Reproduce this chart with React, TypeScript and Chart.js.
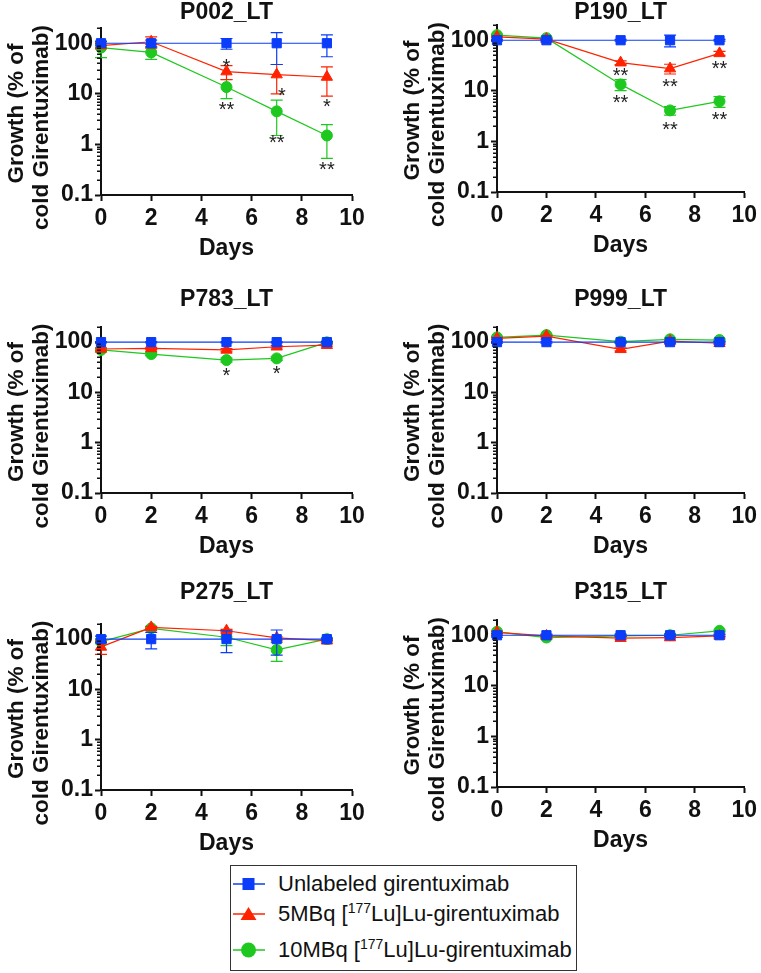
import React, { useEffect, useRef } from 'react';
import { Chart, registerables } from 'chart.js';

Chart.register(...registerables);

const FONT = '"Liberation Sans", Arial, Helvetica, sans-serif';
const TEXT_COLOR = '#111111';
const AXIS_COLOR = '#111111';

// ---------- data ----------
const DAYS = [0, 2, 5, 7, 9];
const X_TICKS = [0, 2, 4, 6, 8, 10];
const Y_TICKS = [0.1, 1, 10, 100];
const Y_MINOR_TICKS = [
  0.2, 0.3, 0.4, 0.5, 0.6, 0.7, 0.8, 0.9,
  2, 3, 4, 5, 6, 7, 8, 9,
  20, 30, 40, 50, 60, 70, 80, 90,
  200,
];
const Y_MIN = 0.1;
const Y_MAX = 200;
const X_MIN = 0;
const X_MAX = 10;

const SERIES_LABELS = [
  'Unlabeled girentuximab',
  '5MBq [177Lu]Lu-girentuximab',
  '10MBq [177Lu]Lu-girentuximab',
];
const SERIES_COLORS = ['#0a3cfa', '#ff2200', '#1ec81e'];
const SERIES_POINT_STYLES = ['rect', 'triangle', 'circle'];
const SERIES_POINT_RADII = [6.5, 6.5, 5.5];

const X_TITLE = 'Days';
const Y_TITLE_LINES = ['Growth (% of', 'cold Girentuximab)'];

// P002_LT
const P002_UNLABELED = [100, 100, 100, 100, 100];
const P002_UNLABELED_ERR = [8, 15, 24, 62, 46];
const P002_5MBQ = [90, 107, 27.5, 24, 21.5];
const P002_5MBQ_ERR = [10, 27, 8.5, 14, 12.5];
const P002_10MBQ = [82, 66, 13.6, 4.5, 1.5];
const P002_10MBQ_ERR = [30, 18, 5.6, 3, 0.97];
const P002_MARKS = [
  { x: 5, y: 44.7, text: '*' },
  { x: 5, y: 6.15, text: '**' },
  { x: 7.21, y: 11.9, text: '*' },
  { x: 7, y: 1.36, text: '**' },
  { x: 9, y: 7.16, text: '*' },
  { x: 9, y: 0.394, text: '**' },
];

// P190_LT
const P190_UNLABELED = [100, 100, 100, 100, 100];
const P190_UNLABELED_ERR = [4, 4, 4, 26, 4];
const P190_5MBQ = [117, 105, 36, 27.5, 55];
const P190_5MBQ_ERR = [4, 4, 3, 6, 5];
const P190_10MBQ = [126, 110, 13.4, 4.1, 6.2];
const P190_10MBQ_ERR = [5, 4, 3.3, 0.8, 1.5];
const P190_MARKS = [
  { x: 5, y: 25.5, text: '**' },
  { x: 5, y: 7.3, text: '**' },
  { x: 7, y: 15.6, text: '**' },
  { x: 7, y: 2.15, text: '**' },
  { x: 9, y: 35, text: '**' },
  { x: 9, y: 3.4, text: '**' },
];

// P783_LT
const P783_UNLABELED = [100, 100, 100, 100, 100];
const P783_UNLABELED_ERR = [3, 3, 3, 3, 3];
const P783_5MBQ = [73, 75, 70, 81, 87];
const P783_5MBQ_ERR = [4, 4, 4, 4, 4];
const P783_10MBQ = [70, 58, 44, 47.5, 99];
const P783_10MBQ_ERR = [4, 4, 4, 4, 4];
const P783_MARKS = [
  { x: 5, y: 27, text: '*' },
  { x: 7, y: 29.6, text: '*' },
];

// P999_LT
const P999_UNLABELED = [100, 100, 100, 100, 100];
const P999_UNLABELED_ERR = [4, 4, 4, 4, 4];
const P999_5MBQ = [119, 132, 72, 105, 95];
const P999_5MBQ_ERR = [5, 5, 5, 5, 5];
const P999_10MBQ = [124, 138, 102, 114, 110];
const P999_10MBQ_ERR = [5, 5, 5, 5, 5];
const P999_MARKS: { x: number; y: number; text: string }[] = [];

// P275_LT
const P275_UNLABELED = [100, 100, 100, 100, 100];
const P275_UNLABELED_ERR = [15, 36, 46, 52, 5];
const P275_5MBQ = [70, 171, 147, 106, 93];
const P275_5MBQ_ERR = [20, 8, 10, 5, 5];
const P275_10MBQ = [89, 164, 109, 61, 100];
const P275_10MBQ_ERR = [8, 8, 35, 25, 5];
const P275_MARKS: { x: number; y: number; text: string }[] = [];

// P315_LT
const P315_UNLABELED = [100, 100, 100, 100, 100];
const P315_UNLABELED_ERR = [8, 5, 5, 5, 5];
const P315_5MBQ = [114, 97, 87.5, 90, 97];
const P315_5MBQ_ERR = [5, 5, 5, 5, 5];
const P315_10MBQ = [117, 90, 97, 100, 122];
const P315_10MBQ_ERR = [5, 5, 5, 5, 5];
const P315_MARKS: { x: number; y: number; text: string }[] = [];

const PANELS = [
  {
    title: 'P002_LT',
    series: [P002_UNLABELED, P002_5MBQ, P002_10MBQ],
    errors: [P002_UNLABELED_ERR, P002_5MBQ_ERR, P002_10MBQ_ERR],
    marks: P002_MARKS,
  },
  {
    title: 'P190_LT',
    series: [P190_UNLABELED, P190_5MBQ, P190_10MBQ],
    errors: [P190_UNLABELED_ERR, P190_5MBQ_ERR, P190_10MBQ_ERR],
    marks: P190_MARKS,
  },
  {
    title: 'P783_LT',
    series: [P783_UNLABELED, P783_5MBQ, P783_10MBQ],
    errors: [P783_UNLABELED_ERR, P783_5MBQ_ERR, P783_10MBQ_ERR],
    marks: P783_MARKS,
  },
  {
    title: 'P999_LT',
    series: [P999_UNLABELED, P999_5MBQ, P999_10MBQ],
    errors: [P999_UNLABELED_ERR, P999_5MBQ_ERR, P999_10MBQ_ERR],
    marks: P999_MARKS,
  },
  {
    title: 'P275_LT',
    series: [P275_UNLABELED, P275_5MBQ, P275_10MBQ],
    errors: [P275_UNLABELED_ERR, P275_5MBQ_ERR, P275_10MBQ_ERR],
    marks: P275_MARKS,
  },
  {
    title: 'P315_LT',
    series: [P315_UNLABELED, P315_5MBQ, P315_10MBQ],
    errors: [P315_UNLABELED_ERR, P315_5MBQ_ERR, P315_10MBQ_ERR],
    marks: P315_MARKS,
  },
];

// ---------- layout (plot rectangles on the 761x973 page) ----------
const PAGE_W = 761;
const PAGE_H = 973;
const LAYOUTS = [
  { left: 101, top: 28, right: 352, bottom: 195, titleGap: 15 },
  { left: 497, top: 25, right: 747, bottom: 192, titleGap: 12.5 },
  { left: 101, top: 327, right: 352, bottom: 493, titleGap: 27.5 },
  { left: 497, top: 327, right: 747, bottom: 493, titleGap: 27.5 },
  { left: 101, top: 624, right: 352, bottom: 790, titleGap: 31 },
  { left: 497, top: 620, right: 747, bottom: 787, titleGap: 27.5 },
];
const Y_TITLE_X = [-84, -59];
const Y_TITLE_SHIFT = [2, 16];
const X_TITLE_GAP = 54;

type PanelSpec = (typeof PANELS)[number];
type Layout = (typeof LAYOUTS)[number];

function makePlugin(spec: PanelSpec, lay: Layout) {
  return {
    id: 'panelDeco',
    beforeDatasetDraw(chart: any, args: any) {
      const si = args.index;
      const xs = chart.scales.x;
      const ys = chart.scales.y;
      const ctx = chart.ctx;
      const vals = spec.series[si];
      const errs = spec.errors[si];
      ctx.save();
      ctx.strokeStyle = SERIES_COLORS[si];
      ctx.lineWidth = 1.2;
      DAYS.forEach((d, i) => {
        const e = errs[i];
        if (!e) return;
        const v = vals[i];
        const lo = Math.max(v - e, Y_MIN);
        const hi = v + e;
        const px = xs.getPixelForValue(d);
        const y1 = ys.getPixelForValue(hi);
        const y2 = ys.getPixelForValue(lo);
        ctx.beginPath();
        ctx.moveTo(px, y1);
        ctx.lineTo(px, y2);
        ctx.moveTo(px - 6, y1);
        ctx.lineTo(px + 6, y1);
        ctx.moveTo(px - 6, y2);
        ctx.lineTo(px + 6, y2);
        ctx.stroke();
      });
      ctx.restore();
    },
    afterDraw(chart: any) {
      const { ctx, chartArea: a } = chart;
      const xs = chart.scales.x;
      const ys = chart.scales.y;
      ctx.save();
      // minor log ticks
      ctx.strokeStyle = AXIS_COLOR;
      ctx.lineWidth = 1.5;
      Y_MINOR_TICKS.forEach((v) => {
        const y = Math.round(ys.getPixelForValue(v)) + 0.25;
        ctx.beginPath();
        ctx.moveTo(a.left - 4, y);
        ctx.lineTo(a.left, y);
        ctx.stroke();
      });
      // panel title and x title
      ctx.fillStyle = TEXT_COLOR;
      ctx.textAlign = 'center';
      ctx.textBaseline = 'middle';
      ctx.font = `bold 23px ${FONT}`;
      const cx = (a.left + a.right) / 2;
      ctx.fillText(spec.title, cx, a.top - lay.titleGap);
      ctx.fillText(X_TITLE, cx, a.bottom + X_TITLE_GAP);
      // y title
      ctx.font = `bold 22.5px ${FONT}`;
      const ym = (a.top + a.bottom) / 2;
      Y_TITLE_LINES.forEach((line, i) => {
        ctx.save();
        ctx.translate(a.left + Y_TITLE_X[i], ym + Y_TITLE_SHIFT[i]);
        ctx.rotate(-Math.PI / 2);
        ctx.fillText(line, 0, 0);
        ctx.restore();
      });
      // significance marks
      ctx.font = `20px ${FONT}`;
      ctx.fillStyle = '#222222';
      ctx.textBaseline = 'alphabetic';
      spec.marks.forEach((m) => {
        ctx.fillText(m.text, xs.getPixelForValue(m.x), ys.getPixelForValue(m.y) + 0.58 * 20);
      });
      ctx.restore();
    },
  };
}

function Panel({ spec, lay }: { spec: PanelSpec; lay: Layout }) {
  const ref = useRef<HTMLCanvasElement>(null);
  useEffect(() => {
    if (!ref.current) return;
    const tickFont = { family: FONT, size: 23, weight: 'bold' as const };
    const chart = new Chart(ref.current, {
      type: 'line',
      data: {
        datasets: spec.series.map((vals, si) => ({
          label: SERIES_LABELS[si],
          data: DAYS.map((d, i) => ({ x: d, y: vals[i] })),
          borderColor: SERIES_COLORS[si],
          backgroundColor: SERIES_COLORS[si],
          borderWidth: 1.2,
          pointStyle: SERIES_POINT_STYLES[si] as any,
          pointRadius: SERIES_POINT_RADII[si],
          pointBorderWidth: 1,
          pointBorderColor: SERIES_COLORS[si],
          pointBackgroundColor: SERIES_COLORS[si],
          tension: 0,
          fill: false,
          clip: false as any,
        })),
      },
      options: {
        responsive: false,
        animation: false,
        events: [],
        layout: {
          padding: {
            left: 0,
            top: lay.top,
            right: PAGE_W - lay.right,
            bottom: 0,
          },
        },
        plugins: {
          legend: { display: false },
          title: { display: false },
          tooltip: { enabled: false },
        },
        scales: {
          x: {
            type: 'linear',
            position: 'bottom',
            min: X_MIN,
            max: X_MAX,
            afterBuildTicks: (scale: any) => {
              scale.ticks = X_TICKS.map((v) => ({ value: v }));
            },
            afterFit: (scale: any) => {
              scale.height = PAGE_H - lay.bottom;
            },
            ticks: {
              autoSkip: false,
              maxRotation: 0,
              minRotation: 0,
              padding: 4,
              color: TEXT_COLOR,
              font: tickFont,
              callback: (v: any) => String(v),
            },
            grid: {
              display: true,
              drawOnChartArea: false,
              drawTicks: true,
              tickLength: 6,
              tickWidth: 2,
              tickColor: AXIS_COLOR,
            },
            border: { display: true, color: AXIS_COLOR, width: 2 },
          },
          y: {
            type: 'logarithmic',
            position: 'left',
            min: Y_MIN,
            max: Y_MAX,
            afterBuildTicks: (scale: any) => {
              scale.ticks = Y_TICKS.map((v) => ({ value: v }));
            },
            afterFit: (scale: any) => {
              scale.width = lay.left;
            },
            ticks: {
              autoSkip: false,
              padding: 2,
              color: TEXT_COLOR,
              font: tickFont,
              callback: (v: any) => String(v),
            },
            grid: {
              display: true,
              drawOnChartArea: false,
              drawTicks: true,
              tickLength: 6,
              tickWidth: 2,
              tickColor: AXIS_COLOR,
            },
            border: { display: true, color: AXIS_COLOR, width: 2 },
          },
        },
      } as any,
      plugins: [makePlugin(spec, lay)],
    });
    return () => chart.destroy();
  }, [spec, lay]);
  return (
    <canvas
      ref={ref}
      width={PAGE_W}
      height={PAGE_H}
      style={{ position: 'absolute', left: 0, top: 0, width: PAGE_W, height: PAGE_H }}
    />
  );
}

function LegendMarker({ index }: { index: number }) {
  const c = SERIES_COLORS[index];
  return (
    <svg width={34} height={20} style={{ position: 'absolute', left: 2, top: -10 }}>
      <line x1={0} y1={10} x2={32} y2={10} stroke={c} strokeWidth={1.5} />
      {index === 0 && <rect x={9.5} y={4} width={12} height={12} fill={c} />}
      {index === 1 && <polygon points="15.5,3 23.5,16 7.5,16" fill={c} />}
      {index === 2 && <circle cx={15.5} cy={10} r={7.5} fill={c} />}
    </svg>
  );
}

function Legend() {
  const rowCenters = [18.5, 48.5, 85];
  const sup = (t: string) => (
    <span style={{ fontSize: 14, position: 'relative', top: -8 }}>{t}</span>
  );
  const texts = [
    <>Unlabeled girentuximab</>,
    <>5MBq [{sup('177')}Lu]Lu-girentuximab</>,
    <>10MBq [{sup('177')}Lu]Lu-girentuximab</>,
  ];
  return (
    <div
      style={{
        position: 'absolute',
        left: 230,
        top: 865,
        width: 347,
        height: 106,
        border: '1px solid #333',
        boxSizing: 'border-box',
        background: '#ffffff',
        fontFamily: FONT,
        fontSize: 22,
        color: TEXT_COLOR,
      }}
    >
      {rowCenters.map((cy, i) => (
        <div key={i} style={{ position: 'absolute', left: 0, top: cy - 1, width: '100%', height: 0 }}>
          <LegendMarker index={i} />
          <div
            style={{
              position: 'absolute',
              left: 47,
              top: -13,
              height: 26,
              lineHeight: '26px',
              whiteSpace: 'nowrap',
            }}
          >
            {texts[i]}
          </div>
        </div>
      ))}
    </div>
  );
}

export default function App() {
  useEffect(() => {
    document.body.style.margin = '0';
    document.body.style.overflow = 'hidden';
    document.body.style.background = '#ffffff';
  }, []);
  return (
    <div style={{ position: 'relative', width: PAGE_W, height: PAGE_H, background: '#ffffff', overflow: 'hidden' }}>
      {PANELS.map((spec, i) => (
        <Panel key={spec.title} spec={spec} lay={LAYOUTS[i]} />
      ))}
      <Legend />
    </div>
  );
}
